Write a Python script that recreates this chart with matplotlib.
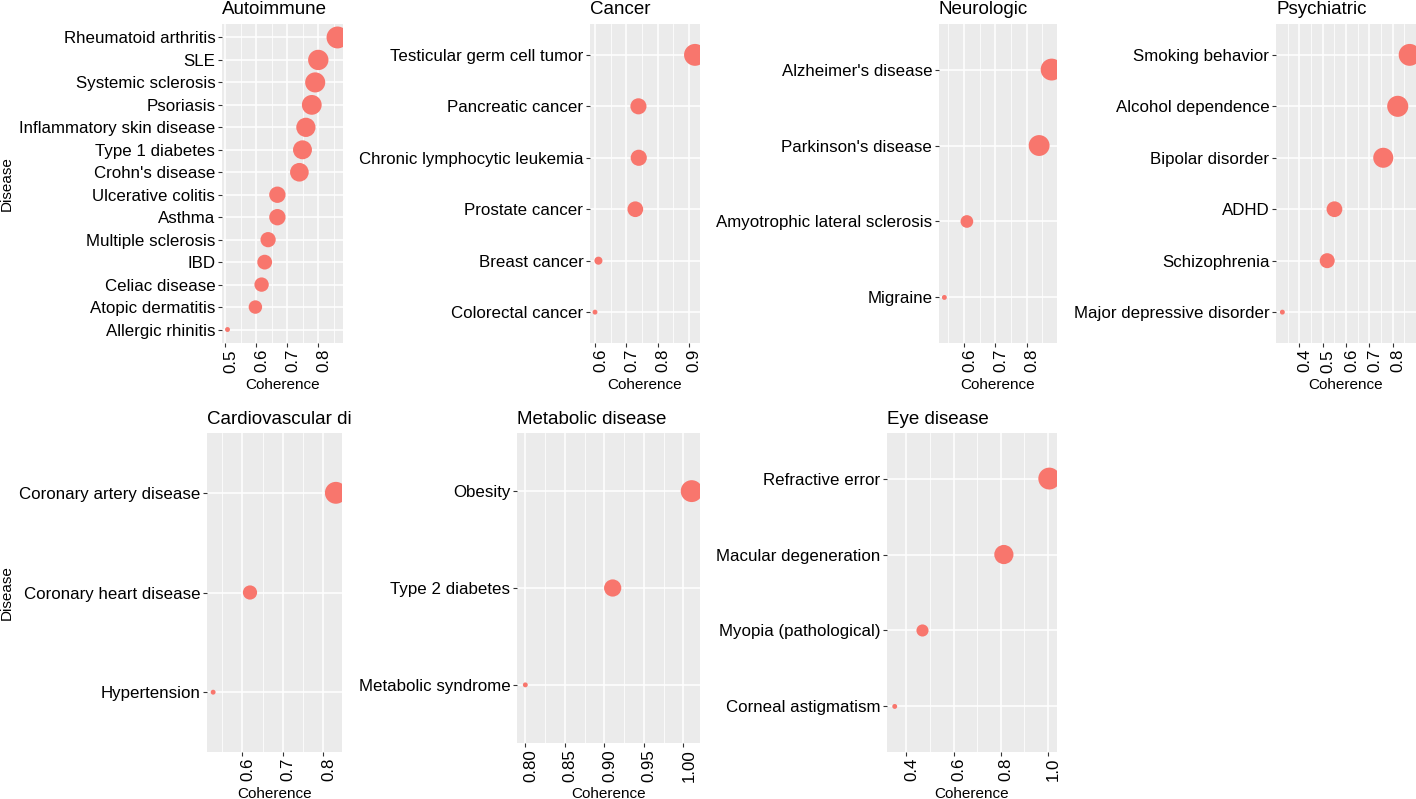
import numpy as np
import matplotlib
matplotlib.use("Agg")
import matplotlib.pyplot as plt
from matplotlib.transforms import Bbox, TransformedBbox, ScaledTranslation

plt.rcParams['font.family'] = ['Liberation Sans', 'DejaVu Sans']

# ---------------- data (top-to-bottom order as shown) ----------------
autoimmune_diseases = ["Rheumatoid arthritis", "SLE", "Systemic sclerosis", "Psoriasis",
                       "Inflammatory skin disease", "Type 1 diabetes", "Crohn's disease",
                       "Ulcerative colitis", "Asthma", "Multiple sclerosis", "IBD",
                       "Celiac disease", "Atopic dermatitis", "Allergic rhinitis"]
autoimmune_coherence = [0.862, 0.800, 0.790, 0.779, 0.760, 0.749, 0.739,
                        0.668, 0.668, 0.638, 0.627, 0.617, 0.597, 0.507]
autoimmune_ticks = [0.5, 0.6, 0.7, 0.8]

cancer_diseases = ["Testicular germ cell tumor", "Pancreatic cancer",
                   "Chronic lymphocytic leukemia", "Prostate cancer",
                   "Breast cancer", "Colorectal cancer"]
cancer_coherence = [0.920, 0.739, 0.740, 0.729, 0.611, 0.600]
cancer_ticks = [0.6, 0.7, 0.8, 0.9]

neuro_diseases = ["Alzheimer's disease", "Parkinson's disease",
                  "Amyotrophic lateral sclerosis", "Migraine"]
neuro_coherence = [0.880, 0.840, 0.609, 0.537]
neuro_ticks = [0.6, 0.7, 0.8]

psych_diseases = ["Smoking behavior", "Alcohol dependence", "Bipolar disorder",
                  "ADHD", "Schizophrenia", "Major depressive disorder"]
psych_coherence = [0.872, 0.821, 0.759, 0.550, 0.519, 0.327]
psych_ticks = [0.4, 0.5, 0.6, 0.7, 0.8]

cardio_diseases = ["Coronary artery disease", "Coronary heart disease", "Hypertension"]
cardio_coherence = [0.831, 0.619, 0.528]
cardio_ticks = [0.6, 0.7, 0.8]

metabolic_diseases = ["Obesity", "Type 2 diabetes", "Metabolic syndrome"]
metabolic_coherence = [1.0106, 0.9106, 0.800]
metabolic_ticks = [0.80, 0.85, 0.90, 0.95, 1.00]

eye_diseases = ["Refractive error", "Macular degeneration",
                "Myopia (pathological)", "Corneal astigmatism"]
eye_coherence = [1.007, 0.814, 0.468, 0.350]
eye_ticks = [0.4, 0.6, 0.8, 1.0]

panel_titles = ["Autoimmune", "Cancer", "Neurologic", "Psychiatric",
                "Cardiovascular disease", "Metabolic disease", "Eye disease"]

panels = [
    (panel_titles[0], autoimmune_diseases, autoimmune_coherence, autoimmune_ticks, 1),
    (panel_titles[1], cancer_diseases, cancer_coherence, cancer_ticks, 1),
    (panel_titles[2], neuro_diseases, neuro_coherence, neuro_ticks, 1),
    (panel_titles[3], psych_diseases, psych_coherence, psych_ticks, 1),
    (panel_titles[4], cardio_diseases, cardio_coherence, cardio_ticks, 1),
    (panel_titles[5], metabolic_diseases, metabolic_coherence, metabolic_ticks, 2),
    (panel_titles[6], eye_diseases, eye_coherence, eye_ticks, 1),
]

# ---------------- layout (pixel boxes: x0, x1, y0(top), y1(bottom), xlabel y) ----------------
W, H, DPI = 1416, 799, 100
boxes = [
    (222, 343, 24, 343, 385),
    (590, 700, 24, 343, 385),
    (939, 1057, 24, 343, 385),
    (1276, 1416, 24, 343, 385),
    (207, 342, 433, 752, 794),
    (517, 700, 433, 743, 794),
    (887, 1057, 433, 752, 794),
]
ylabel_panels = {0, 4}

POINT = '#F8766D'
PANEL_BG = '#EBEBEB'
TEXT = '#000000'
TICK_FS = 12.2
AXT_FS = 11
TITLE_FS = 13.5

fig = plt.figure(figsize=(W / DPI, H / DPI), dpi=DPI)
fig.patch.set_facecolor('white')


def fx(px):
    return px / W


def fy(py):
    return 1 - py / H


for idx, ((title, diseases, values, ticks, dec), (x0, x1, y0, y1, ylab)) in enumerate(zip(panels, boxes)):
    ax = fig.add_axes([fx(x0), fy(y1), fx(x1) - fx(x0), (y1 - y0) / H])
    ax.set_facecolor(PANEL_BG)
    for sp in ax.spines.values():
        sp.set_visible(False)

    v = np.asarray(values, dtype=float)
    n = len(diseases)
    ypos = np.arange(n)[::-1]
    lo, hi = v.min(), v.max()
    span = hi - lo
    xlo, xhi = lo - 0.05 * span, hi + 0.05 * span
    ax.set_xlim(xlo, xhi)
    ax.set_ylim(-0.6, n - 1 + 0.6)

    # size scale (area scaling, range 1..6 like ggplot scale_size)
    size = 1 + 5 * np.sqrt((v - lo) / span)
    diam_px = 1.5 + 3.4 * size
    s = (diam_px * 72 / DPI) ** 2
    ax.scatter(v, ypos, s=s, c=POINT, linewidths=0, zorder=3)

    # ticks and grid
    ax.set_yticks(ypos)
    ax.set_yticklabels(diseases)
    ax.set_xticks(ticks)
    ax.set_xticklabels([f"{t:.{dec}f}" for t in ticks])
    step = ticks[1] - ticks[0]
    minors = [t + step / 2 for t in ticks[:-1]]
    if ticks[0] - step / 2 > xlo:
        minors.insert(0, ticks[0] - step / 2)
    if ticks[-1] + step / 2 < xhi:
        minors.append(ticks[-1] + step / 2)
    ax.set_xticks(minors, minor=True)
    ax.set_axisbelow(True)
    ax.grid(which='major', color='white', linewidth=1.1)
    ax.grid(which='minor', axis='x', color='white', linewidth=0.55)
    ax.tick_params(axis='both', which='major', length=2.6, width=0.8,
                   color='#333333', labelsize=TICK_FS, labelcolor=TEXT, pad=2.2)
    ax.tick_params(axis='x', which='minor', length=0)
    ax.tick_params(axis='x', which='major', pad=1.8)

    offset = ScaledTranslation(0.055, 0, fig.dpi_scale_trans)
    for lab in ax.get_xticklabels():
        lab.set_rotation(90)
        lab.set_rotation_mode('anchor')
        lab.set_ha('right')
        lab.set_va('center')
        lab.set_transform(lab.get_transform() + offset)

    # title (left aligned, clipped at the plot's cell edge)
    t = fig.text(fx(x0), fy(y0 - 9.5), title, ha='left', va='baseline',
                 fontsize=TITLE_FS, color=TEXT)
    clip = Bbox([[fx(0), 0], [fx(x1 + 8.5), 1]])
    t.set_clip_box(TransformedBbox(clip, fig.transFigure))
    t.set_clip_on(True)

    # x axis title
    fig.text(fx((x0 + x1) / 2), fy(ylab), "Coherence", ha='center', va='center',
             fontsize=AXT_FS, color=TEXT)

    if idx in ylabel_panels:
        fig.text(fx(7), fy((y0 + y1) / 2), "Disease", rotation=90, ha='center',
                 va='center', fontsize=AXT_FS, color=TEXT)

fig.savefig("out.png", dpi=DPI, facecolor='white')
